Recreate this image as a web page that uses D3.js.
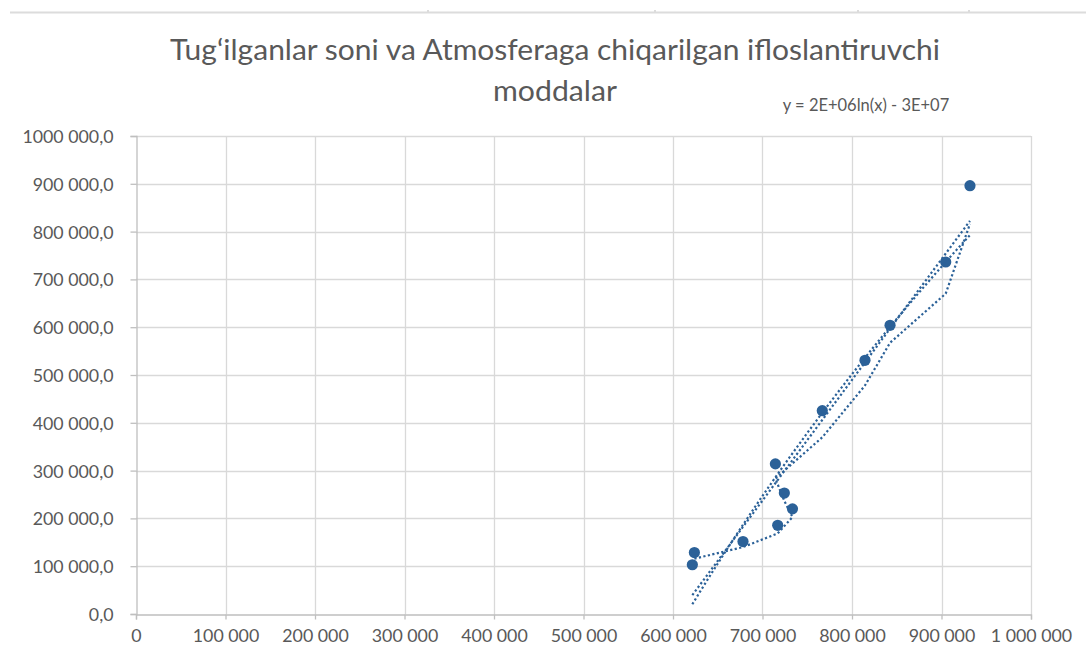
<!DOCTYPE html>
<html>
<head>
<meta charset="utf-8">
<script src="https://cdn.jsdelivr.net/npm/d3@7"></script>
<style>
  body { margin: 0; background: #fff; }
  svg { display: block; font-family: Lato, "Open Sans", sans-serif; }
</style>
</head>
<body>
<div id="vis"></div>
<script>
// values, in the order of the source table
var births = [621600, 623900, 678200, 717000, 733500, 724400, 714400, 766800, 814500, 842500, 904700, 931800];
var pollutants = [103000, 128500, 151500, 185600, 220000, 253000, 314000, 425300, 530800, 604000, 736400, 896000];

var xTicks = [0, 100000, 200000, 300000, 400000, 500000, 600000, 700000, 800000, 900000, 1000000];
var xTickLabels = ['0', '100 000', '200 000', '300 000', '400 000', '500 000', '600 000', '700 000', '800 000', '900 000', '1 000 000'];
var yTicks = [0, 100000, 200000, 300000, 400000, 500000, 600000, 700000, 800000, 900000, 1000000];
var yTickLabels = ['0,0', '100 000,0', '200 000,0', '300 000,0', '400 000,0', '500 000,0', '600 000,0', '700 000,0', '800 000,0', '900 000,0', '1000 000,0'];

var titleLines = ['Tug‘ilganlar soni va Atmosferaga chiqarilgan ifloslantiruvchi', 'moddalar'];
var titleWidths = [770, 124];
var equationText = 'y = 2E+06ln(x) - 3E+07';

var width = 1086;
var height = 664;
var plot = { left: 136, right: 1031, top: 136, bottom: 614 };
var blue = '#2b6198';
var labelColor = '#595959';
var gridColor = '#d9d9d9';

var points = births.map(function (b, i) { return { x: b, y: pollutants[i] }; });

var svg = d3.select('#vis').append('svg').attr('width', width).attr('height', height);

// sheet border line at the top
svg.append('line')
  .attr('x1', 10).attr('x2', width).attr('y1', 12.5).attr('y2', 12.5)
  .attr('stroke', '#dcdcdc').attr('stroke-width', 2);
[428, 655, 858, 969].forEach(function (cx) {
  svg.append('rect').attr('x', cx - 1).attr('y', 10).attr('width', 2).attr('height', 3).attr('fill', '#dcdcdc');
});

var x = d3.scaleLinear().domain([0, 1000000]).range([plot.left, plot.right]);
var y = d3.scaleLinear().domain([0, 1000000]).range([plot.bottom, plot.top]);

var g = svg.append('g');

// gridlines
g.append('g').selectAll('line.hgrid').data(yTicks.slice(1)).enter().append('line')
  .attr('x1', plot.left).attr('x2', plot.right)
  .attr('y1', function (d) { return Math.round(y(d)) + 0.5; })
  .attr('y2', function (d) { return Math.round(y(d)) + 0.5; })
  .attr('stroke', gridColor).attr('stroke-width', 1.3);

g.append('g').selectAll('line.vgrid').data(xTicks.slice(1)).enter().append('line')
  .attr('y1', plot.top).attr('y2', plot.bottom)
  .attr('x1', function (d) { return Math.round(x(d)) + 0.5; })
  .attr('x2', function (d) { return Math.round(x(d)) + 0.5; })
  .attr('stroke', gridColor).attr('stroke-width', 1.3);

// axes
var xAxis = g.append('g')
  .attr('transform', 'translate(0,' + (plot.bottom + 0.5) + ')')
  .call(d3.axisBottom(x).tickValues(xTicks).tickSize(5).tickPadding(10)
    .tickFormat(function (d, i) { return xTickLabels[i]; }));

var yAxis = g.append('g')
  .attr('transform', 'translate(' + (plot.left + 0.5) + ',0)')
  .call(d3.axisLeft(y).tickValues(yTicks).tickSize(6).tickPadding(17)
    .tickFormat(function (d, i) { return yTickLabels[i]; }));

[xAxis, yAxis].forEach(function (ax) {
  ax.select('.domain').attr('stroke', '#bfbfbf').attr('stroke-width', 1.3);
  ax.selectAll('.tick line').attr('stroke', '#bfbfbf').attr('stroke-width', 1.3);
  ax.selectAll('.tick text').attr('fill', labelColor).attr('font-size', 17.8)
    .attr('font-family', 'Lato, "Open Sans", sans-serif');
});
yAxis.selectAll('.tick text').attr('dy', '0.36em');

// markers
g.append('g').selectAll('circle').data(points).enter().append('circle')
  .attr('cx', function (d) { return x(d.x); })
  .attr('cy', function (d) { return y(d.y); })
  .attr('r', 5.6)
  .attr('fill', blue);

// trendlines: linear, logarithmic, 2-period moving average
var xMin = d3.min(births);
var xMax = d3.max(births);

function fit(tx) {
  var us = births.map(tx);
  var mu = d3.mean(us);
  var my = d3.mean(pollutants);
  var sxy = d3.sum(us, function (u, i) { return (u - mu) * (pollutants[i] - my); });
  var sxx = d3.sum(us, function (u) { return (u - mu) * (u - mu); });
  var b = sxy / sxx;
  return { b: b, a: my - b * mu };
}

var lin = fit(function (v) { return v; });
var lgf = fit(function (v) { return Math.log(v); });

var linData = [xMin, xMax].map(function (v) { return { x: v, y: lin.a + lin.b * v }; });
var logData = d3.range(0, 41).map(function (i) {
  var v = xMin + (xMax - xMin) * i / 40;
  return { x: v, y: lgf.a + lgf.b * Math.log(v) };
});
var maData = points.slice(1).map(function (p, i) {
  return { x: p.x, y: (p.y + points[i].y) / 2 };
});

var line = d3.line().x(function (d) { return x(d.x); }).y(function (d) { return y(d.y); });

[linData, logData, maData].forEach(function (data) {
  g.append('path')
    .datum(data)
    .attr('d', line)
    .attr('fill', 'none')
    .attr('stroke', blue)
    .attr('stroke-width', 2.2)
    .attr('stroke-dasharray', '2.2,2.4');
});

// title
svg.append('text')
  .attr('text-anchor', 'middle')
  .attr('fill', labelColor)
  .attr('font-size', 28)
  .selectAll('tspan').data(titleLines).enter().append('tspan')
  .attr('x', 555)
  .attr('y', function (d, i) { return 60 + i * 41; })
  .attr('textLength', function (d, i) { return titleWidths[i]; })
  .attr('lengthAdjust', 'spacingAndGlyphs')
  .text(function (d) { return d; });

// trendline equation
svg.append('text')
  .attr('x', 866).attr('y', 111)
  .attr('text-anchor', 'middle')
  .attr('fill', labelColor)
  .attr('font-size', 16.5)
  .text(equationText);
</script>
</body>
</html>
